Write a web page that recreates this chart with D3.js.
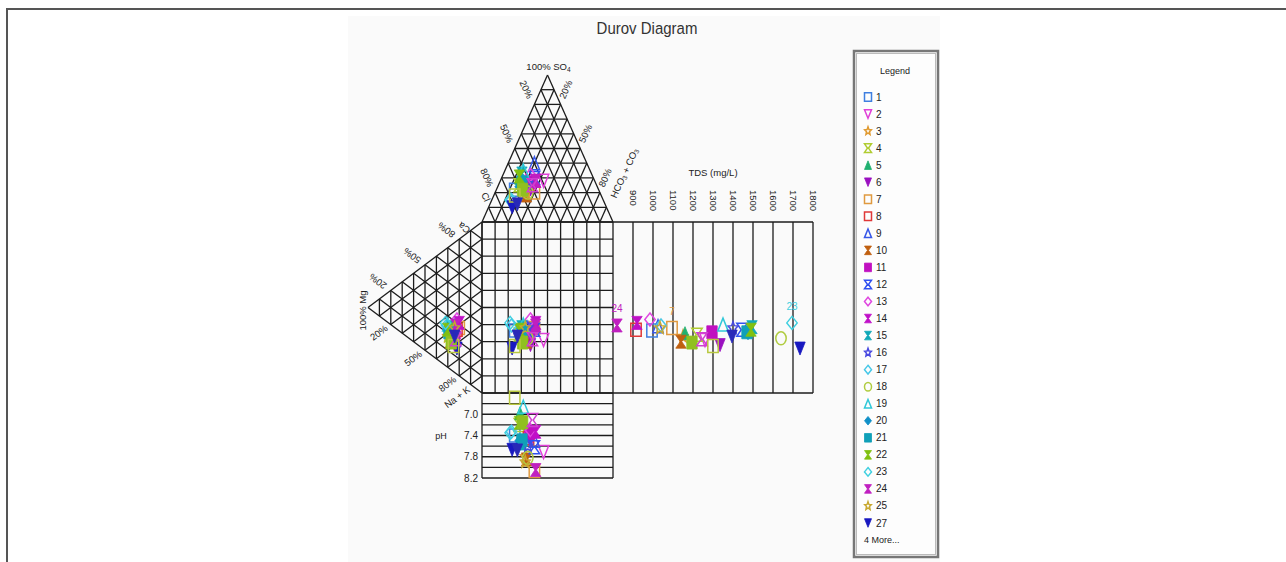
<!DOCTYPE html>
<html>
<head>
<meta charset="utf-8">
<script src="https://cdn.jsdelivr.net/npm/d3@7"></script>
<style>
  html, body { margin: 0; padding: 0; background: #ffffff; }
  svg { display: block; font-family: "Liberation Sans", Arial, sans-serif; }
</style>
</head>
<body>
<svg id="chart" width="1286" height="562"></svg>
<script>
// ---- Sample data (milliequivalent %, TDS in mg/L, pH) ----
const sampleIds = ["1","2","3","4","5","6","7","8","9","10","11","12","13","14","15","16","17","18","19","20","21","22","23","24","25","27","26","28","29","30"];
const clPct   = [64,39,58,59,56,52,50,52,40,57,50,45,47,45,53,52,70,55,51,59,56,56,71,45,57,72,58,49,66,67];
const so4Pct  = [22,28,18,25,30,22,20,25,40,18,27,30,32,28,33,26,15,20,35,24,27,31,15,28,20,10,22,25,18,12];
const hco3Pct = [14,33,24,16,14,26,30,23,20,25,23,25,21,27,14,22,15,25,14,17,17,13,14,27,23,18,20,26,16,21];
const caPct   = [24,20,18,20,22,16,28,26,27,16,23,24,32,31,25,26,24,19,25,21,21,22,25,28,26,15,16,20,15,21];
const mgPct   = [25,22,30,28,26,24,20,22,24,28,25,26,22,20,27,24,31,26,30,28,29,30,32,23,24,22,27,23,25,24];
const naKPct  = [51,58,52,52,52,60,52,52,49,56,52,50,46,49,48,50,45,55,45,51,50,48,43,49,50,63,57,57,60,55];
const tdsValues = [995,1260,1150,1220,1160,1335,1095,915,1025,1140,1295,1445,985,920,1495,1400,1040,1640,1350,1475,1470,1490,1695,820,1035,1735,1195,1245,1300,1395];
const phValues  = [7.40,7.71,7.80,7.20,6.98,7.50,8.07,7.45,7.50,7.85,7.35,7.62,7.30,7.33,7.55,7.60,7.33,7.82,6.86,7.50,7.49,7.16,7.35,8.05,7.90,7.67,7.15,7.11,6.69,7.68];

// Samples whose id is printed next to the TDS marker
const tdsLabeled = ["24","7","23"];

// Axis tick labels
const tdsTicks = [900,1000,1100,1200,1300,1400,1500,1600,1700,1800];
const phTicks  = [7.0,7.4,7.8,8.2];
const phLines  = [6.6,6.8,7.0,7.2,7.4,7.6,7.8,8.0,8.2];
const gridPct  = [0,10,20,30,40,50,60,70,80,90,100];
const edgeLabelPct = [20,50,80];

// Marker style per sample
const markerShape = ["square","triDown","star","hourglass","triUp","triDown","square","square","triUp","hourglass","square","hourglass","diamond","hourglass","hourglass","star","diamond","circle","triUp","diamond","square","hourglass","diamond","hourglass","star","triDown","square","hourglass","square","triDown"];
const markerFilled = [0,0,0,0,1,1,0,0,0,1,1,0,0,1,1,0,0,0,0,1,1,1,0,1,0,1,1,0,0,1];
const markerColor = ["#3f7fe0","#e040d8","#e09a30","#b0cc30","#20b070","#9a10c0","#e09a40","#e03838","#3858e8","#c06010","#c010c0","#3050f0","#e048e0","#c010c8","#10a8b8","#4848e0","#48c8e8","#b0cc40","#30c8d8","#1090c8","#10a0b8","#80c010","#40d0e0","#c020c0","#c8a830","#1818c0","#90c020","#d040d0","#b8c840","#2828b8"];
const legendCount = 26;

// ---- Layout scales ----
const anionX  = d3.scaleLinear().domain([0,100]).range([482, 613]);   // HCO3 + SO4/2
const cationY = d3.scaleLinear().domain([0,100]).range([222, 393]);   // NaK + Mg/2
const so4Y    = d3.scaleLinear().domain([0,100]).range([222, 75]);    // SO4 height in anion triangle
const mgX     = d3.scaleLinear().domain([0,100]).range([482, 368]);   // Mg depth in cation triangle
const tdsX    = d3.scaleLinear().domain([800,1800]).range([613, 813]);
const phY     = d3.scaleLinear().domain([6.6,8.2]).range([393, 478]);

const anionPt  = (cl, so4, hco3) => [anionX(hco3 + so4/2), so4Y(so4)];
const cationPt = (ca, mg, nak)   => [mgX(mg), cationY(nak + mg/2)];

const svg = d3.select("#chart");
const LINE = "#1c1c1c";

// Frame and panel
svg.append("rect").attr("x",348).attr("y",16).attr("width",592).attr("height",546).attr("fill","#fafafa");
svg.append("path").attr("d","M7,562 V9 H1286").attr("fill","none").attr("stroke","#555").attr("stroke-width",2);

svg.append("text").attr("x",647).attr("y",34).attr("text-anchor","middle")
  .attr("font-size",15).attr("fill","#333")
  .attr("transform", "matrix(1,0,0,1.15,0,-5)")
  .text("Durov Diagram");

const grid = svg.append("g").attr("stroke",LINE).attr("stroke-width",1.3).attr("fill","none");
const line = d3.line();

// Anion triangle grid
gridPct.forEach(k => {
  grid.append("path").attr("d", line([anionPt(100-k,k,0), anionPt(0,k,100-k)]));
  grid.append("path").attr("d", line([anionPt(k,100-k,0), anionPt(k,0,100-k)]));
  grid.append("path").attr("d", line([anionPt(0,100-k,k), anionPt(100-k,0,k)]));
});
// Cation triangle grid
gridPct.forEach(k => {
  grid.append("path").attr("d", line([cationPt(100-k,k,0), cationPt(0,k,100-k)]));
  grid.append("path").attr("d", line([cationPt(k,100-k,0), cationPt(k,0,100-k)]));
  grid.append("path").attr("d", line([cationPt(0,100-k,k), cationPt(100-k,0,k)]));
});
// Central square
gridPct.forEach(k => {
  grid.append("path").attr("d", line([[anionX(k), cationY(0)], [anionX(k), cationY(100)]]));
  grid.append("path").attr("d", line([[anionX(0), cationY(k)], [anionX(100), cationY(k)]]));
});
// TDS panel
grid.append("path").attr("d", line([[tdsX(800), cationY(0)], [tdsX(1800), cationY(0)]]));
grid.append("path").attr("d", line([[tdsX(800), cationY(100)], [tdsX(1800), cationY(100)]]));
tdsTicks.forEach(t => grid.append("path").attr("d", line([[tdsX(t), cationY(0)], [tdsX(t), cationY(100)]])));
// pH panel
phLines.forEach(v => grid.append("path").attr("d", line([[anionX(0), phY(v)], [anionX(100), phY(v)]])));
grid.append("path").attr("d", line([[anionX(0), phY(6.6)], [anionX(0), phY(8.2)]]));
grid.append("path").attr("d", line([[anionX(100), phY(6.6)], [anionX(100), phY(8.2)]]));

// ---- Labels ----
const lab = svg.append("g").attr("fill","#222").attr("font-size",9.5);
function rotText(x, y, angle, str, size) {
  const t = lab.append("text").attr("x",0).attr("y",0)
    .attr("text-anchor","middle").attr("dominant-baseline","central")
    .attr("transform",`translate(${x},${y}) rotate(${angle})`);
  if (size) t.attr("font-size", size);
  return t.text(str);
}
// Anion triangle
const apex = anionPt(0,100,0);
lab.append("text").attr("x",apex[0]+1).attr("y",apex[1]-5).attr("text-anchor","middle")
  .html('100% SO<tspan font-size="6.5" dy="2">4</tspan>');
edgeLabelPct.forEach(p => {
  const l = anionPt(p,100-p,0);
  rotText(l[0]-8, l[1]-15, 66, p + "%");
  const r = anionPt(0,100-p,p);
  rotText(r[0]+5, r[1]-15, -66, p + "%");
});
rotText(486, 197, 66, "Cl");
{
  const t = lab.append("text").attr("text-anchor","middle").attr("dominant-baseline","central")
    .attr("transform","translate(624,173) rotate(-66)");
  t.html('HCO<tspan font-size="6.5" dy="2">3</tspan><tspan dy="-2"> + CO</tspan><tspan font-size="6.5" dy="2">3</tspan>');
}
// Cation triangle
const mgApex = cationPt(0,100,0);
rotText(mgApex[0]-6, mgApex[1]+3, -90, "100% Mg");
edgeLabelPct.forEach(p => {
  const u = cationPt(p,100-p,0);
  rotText(u[0]-13, u[1]-9, -143, p + "%");
  const b = cationPt(0,100-p,p);
  rotText(b[0]-12, b[1]+8, -37, p + "%");
});
rotText(464, 228, -143, "Ca");
rotText(457, 397, -37, "Na + K");

// TDS axis
lab.append("text").attr("x",713).attr("y",176).attr("text-anchor","middle").attr("font-size",9.5).text("TDS (mg/L)");
tdsTicks.forEach(t => {
  lab.append("text").attr("text-anchor","start").attr("dominant-baseline","central")
    .attr("transform",`translate(${tdsX(t)},190) rotate(90)`).text(t);
});
// pH axis
phTicks.forEach(v => {
  lab.append("text").attr("x",478).attr("y",phY(v)).attr("text-anchor","end")
    .attr("dominant-baseline","central").attr("font-size",10).text(v.toFixed(1));
});
lab.append("text").attr("x",441).attr("y",phY(7.4)).attr("text-anchor","middle")
  .attr("dominant-baseline","central").attr("font-size",9).text("pH");

// ---- Marker shapes ----
function shapePath(type, w, h) {
  switch (type) {
    case "square":  return `M${-w},${-h}H${w}V${h}H${-w}Z`;
    case "triUp":   return `M0,${-h}L${w},${h}L${-w},${h}Z`;
    case "triDown": return `M${-w},${-h}L${w},${-h}L0,${h}Z`;
    case "diamond": return `M0,${-h}L${w},0L0,${h}L${-w},0Z`;
    case "hourglass": return `M${-w},${-h}L${w},${-h}L${w*0.15},0L${w},${h}L${-w},${h}L${-w*0.15},0Z`;
    case "circle": return `M${-w},0A${w},${h} 0 1,0 ${w},0A${w},${h} 0 1,0 ${-w},0Z`;
    case "star": {
      const pts = [];
      for (let i = 0; i < 10; i++) {
        const r = i % 2 === 0 ? 1 : 0.45;
        const a = -Math.PI/2 + i * Math.PI/5;
        pts.push([w * r * Math.cos(a), h * r * Math.sin(a)]);
      }
      return "M" + pts.map(p => p[0].toFixed(2) + "," + p[1].toFixed(2)).join("L") + "Z";
    }
  }
}
function drawMarker(g, i, x, y, w, h) {
  const c = markerColor[i];
  g.append("path").attr("d", shapePath(markerShape[i], w, h))
    .attr("transform", `translate(${x},${y})`)
    .attr("fill", markerFilled[i] ? c : "none")
    .attr("stroke", c).attr("stroke-width", markerFilled[i] ? 0.8 : 1.5);
}

const marks = svg.append("g");
const W = 5.2, H = 6.5;
sampleIds.forEach((id, i) => {
  const a = anionPt(clPct[i], so4Pct[i], hco3Pct[i]);
  const c = cationPt(caPct[i], mgPct[i], naKPct[i]);
  const sx = anionX(hco3Pct[i] + so4Pct[i]/2);
  const sy = cationY(naKPct[i] + mgPct[i]/2);
  drawMarker(marks, i, a[0], a[1], W, H);                 // anion triangle
  drawMarker(marks, i, c[0], c[1], W, H);                 // cation triangle
  drawMarker(marks, i, sx, sy, W, H);                     // central square
  drawMarker(marks, i, tdsX(tdsValues[i]), sy, W, H);     // TDS panel
  drawMarker(marks, i, sx, phY(phValues[i]), W, H);       // pH panel
  if (tdsLabeled.includes(id)) {
    marks.append("text").attr("x", tdsX(tdsValues[i])).attr("y", sy - 13)
      .attr("text-anchor","middle").attr("font-size",10).attr("fill", markerColor[i]).text(id);
  }
});

// ---- Legend ----
const lg = svg.append("g");
lg.append("rect").attr("x",854).attr("y",51).attr("width",84).attr("height",506)
  .attr("fill","#fdfdfd").attr("stroke","#777").attr("stroke-width",2.5);
lg.append("rect").attr("x",856.5).attr("y",53.5).attr("width",79).attr("height",501)
  .attr("fill","none").attr("stroke","#bbb").attr("stroke-width",1);
lg.append("text").attr("x",895).attr("y",74).attr("text-anchor","middle")
  .attr("font-size",9).attr("fill","#222").text("Legend");
sampleIds.slice(0, legendCount).forEach((id, i) => {
  const y = 97 + i * 17.04;
  drawMarker(lg, i, 868, y, 3.5, 4.3);
  lg.append("text").attr("x",876).attr("y",y).attr("dominant-baseline","central")
    .attr("font-size",10).attr("fill","#222").text(id);
});
lg.append("text").attr("x",864).attr("y",97 + legendCount * 17.04).attr("dominant-baseline","central")
  .attr("font-size",9).attr("fill","#222").text((sampleIds.length - legendCount) + " More...");
</script>
</body>
</html>
